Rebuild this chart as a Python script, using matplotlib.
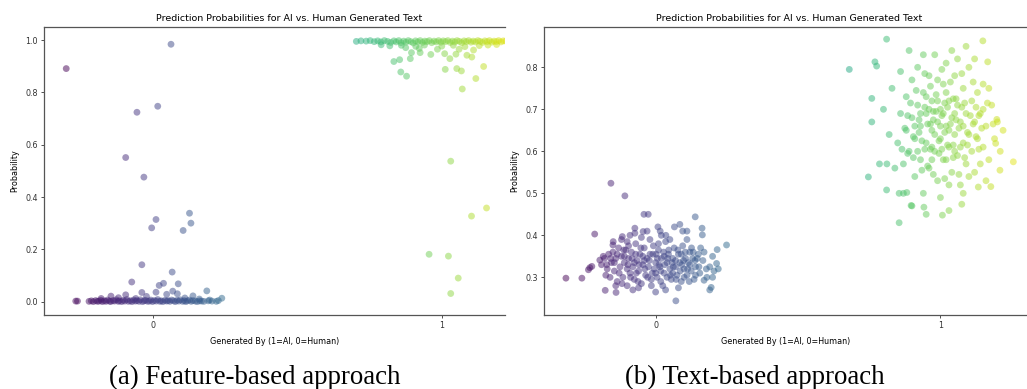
import matplotlib
matplotlib.use("Agg")
import matplotlib.pyplot as plt
import numpy as np

TITLE = "Prediction Probabilities for AI vs. Human Generated Text"
XLABEL = "Generated By (1=AI, 0=Human)"
YLABEL = "Probability"
CAPTIONS = ["(a) Feature-based approach", "(b) Text-based approach"]

# (a) feature-based: jittered label vs predicted probability
feat_human_band_x = [-0.268, -0.262, -0.222, -0.214, -0.207, -0.199, -0.193, -0.188, -0.181, -0.176,
                     -0.169, -0.163, -0.158, -0.151, -0.147, -0.139, -0.134, -0.128, -0.121, -0.117,
                     -0.109, -0.104, -0.098, -0.091, -0.086, -0.079, -0.073, -0.068, -0.061, -0.056,
                     -0.049, -0.044, -0.037, -0.031, -0.026, -0.019, -0.013, -0.008, -0.002, 0.004,
                     0.011, 0.016, 0.023, 0.028, 0.034, 0.041, 0.047, 0.052, 0.058, 0.064,
                     0.071, 0.077, 0.083, 0.089, 0.094, 0.102, 0.108, 0.113, 0.119, 0.126,
                     0.132, 0.138, 0.146, 0.153, 0.161, 0.168, 0.176, 0.191, 0.204, 0.219, 0.226]
feat_human_band_y = [0.002, 0.002, 0.001, 0.003, 0.0, 0.004, 0.001, 0.002, 0.005, 0.0,
                     0.003, 0.001, 0.006, 0.002, 0.0, 0.004, 0.002, 0.007, 0.001, 0.003,
                     0.0, 0.005, 0.002, 0.008, 0.001, 0.003, 0.0, 0.006, 0.002, 0.004,
                     0.001, 0.007, 0.0, 0.003, 0.005, 0.001, 0.002, 0.006, 0.0, 0.004,
                     0.002, 0.008, 0.001, 0.003, 0.0, 0.005, 0.002, 0.004, 0.001, 0.006,
                     0.003, 0.0, 0.005, 0.002, 0.007, 0.001, 0.004, 0.0, 0.003, 0.006,
                     0.001, 0.004, 0.002, 0.0, 0.003, 0.002, 0.001, 0.003, 0.002, 0.001, 0.004]
feat_human_out = [(-0.301, 0.891), (0.062, 0.984), (0.016, 0.747), (-0.056, 0.724), (-0.095, 0.551),
                  (-0.032, 0.476), (0.010, 0.314), (-0.005, 0.282), (0.126, 0.338), (0.131, 0.300),
                  (0.104, 0.272), (-0.039, 0.141), (0.066, 0.113), (-0.074, 0.075), (0.087, 0.068),
                  (0.036, 0.070), (0.021, 0.062), (0.186, 0.041), (0.238, 0.013), (0.010, 0.036),
                  (-0.146, 0.021), (-0.095, 0.026), (-0.039, 0.035), (-0.023, 0.020), (0.047, 0.028),
                  (0.068, 0.040), (0.084, 0.030), (0.138, 0.022), (-0.120, 0.015), (-0.180, 0.012),
                  (0.110, 0.014), (-0.060, 0.012), (0.160, 0.010), (0.196, 0.006)]

feat_ai_band_x = [0.704, 0.720, 0.738, 0.752, 0.766, 0.778, 0.789, 0.801, 0.812, 0.823,
                  0.834, 0.842, 0.851, 0.859, 0.868, 0.876, 0.884, 0.893, 0.901, 0.909,
                  0.917, 0.925, 0.933, 0.941, 0.949, 0.957, 0.965, 0.973, 0.981, 0.989,
                  0.997, 1.005, 1.013, 1.021, 1.029, 1.037, 1.045, 1.053, 1.061, 1.069,
                  1.077, 1.085, 1.093, 1.101, 1.109, 1.117, 1.125, 1.133, 1.141, 1.149,
                  1.157, 1.165, 1.173, 1.181, 1.189, 1.197, 1.205, 1.213, 1.222]
feat_ai_band_y = [0.995, 0.997, 0.996, 0.998, 0.994, 0.997, 0.993, 0.998, 0.995, 0.991,
                  0.997, 0.993, 0.998, 0.990, 0.996, 0.992, 0.998, 0.994, 0.989, 0.997,
                  0.993, 0.998, 0.991, 0.996, 0.994, 0.998, 0.990, 0.996, 0.993, 0.998,
                  0.992, 0.997, 0.994, 0.998, 0.991, 0.996, 0.993, 0.998, 0.995, 0.990,
                  0.997, 0.994, 0.998, 0.992, 0.996, 0.993, 0.998, 0.995, 0.991, 0.997,
                  0.994, 0.998, 0.992, 0.996, 0.994, 0.998, 0.993, 0.997, 0.996]
feat_ai_out = [(0.834, 0.918), (0.854, 0.925), (0.891, 0.929), (0.858, 0.878), (0.878, 0.862),
               (0.875, 0.971), (0.895, 0.952), (0.925, 0.952), (0.962, 0.945), (0.922, 0.968),
               (1.010, 0.948), (1.028, 0.929), (1.049, 0.946), (1.060, 0.965), (1.087, 0.942),
               (1.104, 0.935), (1.012, 0.888), (1.052, 0.891), (1.068, 0.882), (1.118, 0.853),
               (1.145, 0.899), (1.071, 0.813), (1.031, 0.537), (0.956, 0.181), (1.023, 0.174),
               (1.057, 0.090), (1.031, 0.031), (1.103, 0.327), (1.155, 0.358),
               (0.790, 0.982), (0.820, 0.978), (0.860, 0.980), (0.910, 0.976), (0.940, 0.981),
               (1.000, 0.977), (1.040, 0.980), (1.080, 0.975), (1.130, 0.979), (1.160, 0.981),
               (1.190, 0.983), (0.985, 0.965), (1.110, 0.962)]

# (b) text-based
text_human = [(-0.157, 0.524), (-0.108, 0.494), (-0.214, 0.403), (-0.315, 0.298), (-0.259, 0.298),
              (-0.177, 0.269), (-0.139, 0.264), (0.071, 0.244), (0.139, 0.444), (-0.041, 0.450),
              (-0.026, 0.450), (-0.231, 0.323), (-0.236, 0.318), (-0.224, 0.326), (-0.196, 0.341),
              (-0.184, 0.350), (-0.149, 0.385), (-0.150, 0.377), (-0.117, 0.397), (-0.100, 0.385),
              (0.249, 0.377), (0.216, 0.366), (0.163, 0.417), (0.164, 0.401), (0.095, 0.410),
              (0.110, 0.410), (0.085, 0.426), (-0.073, 0.417), (-0.073, 0.405), (-0.044, 0.409),
              (0.008, 0.420), (0.016, 0.410), (0.066, 0.420), (0.036, 0.400), (0.190, 0.270),
              (0.195, 0.276), (0.170, 0.293), (0.200, 0.300), (0.205, 0.315), (0.214, 0.333),
              (0.200, 0.350), (0.190, 0.325), (0.180, 0.300), (0.220, 0.320), (0.170, 0.360),
              (-0.190, 0.330), (-0.180, 0.345), (-0.170, 0.320), (-0.165, 0.355), (-0.160, 0.300),
              (-0.155, 0.335), (-0.150, 0.360), (-0.145, 0.315), (-0.140, 0.345), (-0.135, 0.290),
              (-0.130, 0.370), (-0.125, 0.325), (-0.120, 0.350), (-0.115, 0.300), (-0.110, 0.335),
              (-0.105, 0.365), (-0.100, 0.280), (-0.095, 0.345), (-0.090, 0.310), (-0.085, 0.360),
              (-0.080, 0.325), (-0.075, 0.295), (-0.070, 0.380), (-0.065, 0.340), (-0.060, 0.315),
              (-0.055, 0.355), (-0.050, 0.285), (-0.045, 0.330), (-0.040, 0.370), (-0.035, 0.305),
              (-0.030, 0.345), (-0.025, 0.325), (-0.020, 0.390), (-0.015, 0.295), (-0.010, 0.355),
              (-0.005, 0.320), (0.000, 0.335), (0.005, 0.300), (0.010, 0.365), (0.015, 0.325),
              (0.020, 0.345), (0.025, 0.280), (0.030, 0.310), (0.035, 0.385), (0.040, 0.335),
              (0.045, 0.355), (0.050, 0.320), (0.055, 0.295), (0.060, 0.345), (0.065, 0.370),
              (0.070, 0.325), (0.075, 0.305), (0.080, 0.355), (0.085, 0.335), (0.090, 0.290),
              (0.095, 0.375), (0.100, 0.320), (0.105, 0.345), (0.110, 0.305), (0.115, 0.335),
              (0.120, 0.360), (0.125, 0.315), (0.130, 0.345), (0.135, 0.295), (0.140, 0.325),
              (0.150, 0.355), (0.155, 0.310), (-0.120, 0.390), (-0.090, 0.400), (-0.060, 0.275),
              (-0.030, 0.410), (0.000, 0.265), (0.020, 0.400), (0.050, 0.390), (0.080, 0.275),
              (0.110, 0.390), (-0.175, 0.305), (-0.140, 0.280), (-0.100, 0.320), (-0.020, 0.355),
              (0.030, 0.350), (0.060, 0.310), (0.090, 0.355), (0.000, 0.310), (-0.040, 0.340),
              (0.040, 0.300), (-0.070, 0.355), (0.070, 0.340), (0.120, 0.330), (-0.110, 0.350),
              (0.010, 0.380), (-0.050, 0.395), (0.100, 0.300), (-0.080, 0.270), (0.140, 0.305),
              (0.035, 0.270), (-0.015, 0.280),
              (-0.145, 0.335), (-0.128, 0.310), (-0.112, 0.365), (-0.097, 0.330), (-0.083, 0.345),
              (-0.068, 0.310), (-0.052, 0.370), (-0.038, 0.320), (-0.022, 0.340), (-0.008, 0.375),
              (0.006, 0.345), (0.018, 0.315), (0.032, 0.330), (0.046, 0.365), (0.058, 0.335),
              (0.072, 0.295), (0.086, 0.315), (0.098, 0.340), (0.112, 0.320), (0.126, 0.370),
              (0.138, 0.340), (0.152, 0.325), (0.166, 0.340), (0.178, 0.320), (-0.158, 0.345),
              (-0.172, 0.330), (-0.118, 0.285), (-0.088, 0.300), (-0.058, 0.330), (-0.028, 0.300),
              (0.002, 0.355), (0.028, 0.360), (0.052, 0.305), (0.078, 0.365), (0.104, 0.360),
              (0.132, 0.360), (-0.095, 0.375), (-0.045, 0.350), (0.012, 0.330), (0.062, 0.325),
              (0.118, 0.290), (0.146, 0.345), (-0.135, 0.355), (-0.075, 0.335), (-0.012, 0.310),
              (0.042, 0.345), (0.092, 0.330), (0.018, 0.290), (-0.062, 0.290), (0.158, 0.370)]

text_ai = [(0.680, 0.795), (0.811, 0.867), (0.770, 0.813), (0.776, 0.803), (0.759, 0.670),
           (0.759, 0.726), (0.747, 0.539), (0.855, 0.430), (1.256, 0.575), (1.149, 0.863),
           (1.166, 0.813), (1.198, 0.676), (1.194, 0.619), (1.209, 0.555), (1.177, 0.516),
           (1.133, 0.515), (1.075, 0.474), (1.030, 0.459), (1.007, 0.448), (0.942, 0.467),
           (0.897, 0.471), (0.855, 0.500), (0.882, 0.502), (0.811, 0.508), (0.786, 0.570),
           (0.812, 0.570),
           (0.85, 0.62), (0.86, 0.69), (0.87, 0.57), (0.88, 0.73), (0.88, 0.65), (0.89, 0.60),
           (0.90, 0.77), (0.90, 0.68), (0.91, 0.54), (0.91, 0.63), (0.92, 0.71), (0.92, 0.80),
           (0.93, 0.58), (0.93, 0.66), (0.94, 0.74), (0.94, 0.50), (0.95, 0.62), (0.95, 0.69),
           (0.96, 0.56), (0.96, 0.78), (0.97, 0.65), (0.97, 0.72), (0.98, 0.60), (0.98, 0.83),
           (0.99, 0.67), (0.99, 0.53), (1.00, 0.70), (1.00, 0.63), (1.01, 0.76), (1.01, 0.58),
           (1.02, 0.66), (1.02, 0.81), (1.03, 0.61), (1.03, 0.72), (1.04, 0.55), (1.04, 0.68),
           (1.05, 0.64), (1.05, 0.78), (1.06, 0.59), (1.06, 0.71), (1.07, 0.52), (1.07, 0.67),
           (1.08, 0.62), (1.08, 0.75), (1.09, 0.69), (1.09, 0.57), (1.10, 0.64), (1.10, 0.80),
           (1.11, 0.72), (1.11, 0.60), (1.12, 0.67), (1.12, 0.55), (1.13, 0.74), (1.13, 0.63),
           (1.14, 0.69), (1.15, 0.61), (1.15, 0.76), (1.16, 0.66), (1.17, 0.58), (1.18, 0.71),
           (0.80, 0.70), (0.82, 0.64), (0.83, 0.75), (0.84, 0.56), (0.86, 0.79), (0.87, 0.50),
           (0.89, 0.84), (0.90, 0.47), (0.92, 0.60), (0.94, 0.83), (0.95, 0.45), (0.97, 0.58),
           (0.99, 0.77), (1.00, 0.49), (1.02, 0.74), (1.03, 0.52), (1.04, 0.84), (1.05, 0.69),
           (1.06, 0.82), (1.07, 0.61), (1.08, 0.50), (1.09, 0.85), (1.10, 0.54), (1.12, 0.82),
           (1.14, 0.57), (1.15, 0.70), (1.16, 0.53), (1.17, 0.75), (1.19, 0.63), (1.20, 0.67),
           (1.21, 0.60), (1.22, 0.65), (0.96, 0.70), (0.98, 0.64), (1.00, 0.66), (1.01, 0.69),
           (0.97, 0.61), (1.03, 0.65), (0.93, 0.69), (1.05, 0.60), (0.99, 0.72), (0.91, 0.66),
           (1.08, 0.66), (0.95, 0.73), (1.02, 0.58),
           (0.875, 0.655), (0.885, 0.595), (0.895, 0.715), (0.905, 0.635), (0.915, 0.745),
           (0.925, 0.675), (0.935, 0.625), (0.945, 0.705), (0.955, 0.665), (0.965, 0.605),
           (0.975, 0.695), (0.985, 0.735), (0.995, 0.625), (1.005, 0.685), (1.015, 0.645),
           (1.025, 0.705), (1.035, 0.665), (1.045, 0.615), (1.055, 0.725), (1.065, 0.655),
           (1.075, 0.705), (1.085, 0.585), (1.095, 0.645), (1.105, 0.685), (1.115, 0.665),
           (1.125, 0.705), (1.135, 0.605), (1.145, 0.655), (0.955, 0.565), (0.975, 0.545),
           (1.015, 0.535), (1.045, 0.585), (1.065, 0.545), (1.095, 0.615), (0.995, 0.595),
           (0.935, 0.555), (0.905, 0.585), (0.965, 0.755), (1.035, 0.765), (1.075, 0.785),
           (1.005, 0.795), (0.945, 0.785), (1.115, 0.765), (0.985, 0.695), (1.025, 0.615),
           (1.055, 0.675), (0.925, 0.645), (1.085, 0.715), (0.965, 0.665), (1.005, 0.605),
           (1.045, 0.725), (0.945, 0.605), (1.125, 0.635), (0.885, 0.685), (1.165, 0.715),
           (1.185, 0.665), (1.135, 0.685), (0.865, 0.605), (1.015, 0.715), (0.975, 0.675)]


def draw_panel(ax, pts, vmin, vmax, xlim, ylim, yticks, title_x):
    pts = np.array(pts)
    ax.scatter(pts[:, 0], pts[:, 1], c=pts[:, 0], cmap="viridis", vmin=vmin, vmax=vmax,
               s=24, alpha=0.5, linewidths=0)
    ax.set_xlim(*xlim)
    ax.set_ylim(*ylim)
    ax.set_xticks([0, 1])
    ax.set_yticks(yticks)
    ax.tick_params(labelsize=5.8, length=2.5, width=0.6, colors="#333333", pad=2)
    ax.set_xlabel(XLABEL, fontsize=5.8, labelpad=5)
    ax.set_ylabel(YLABEL, fontsize=5.8, labelpad=4)
    ax.set_title(TITLE, fontsize=6.8, x=title_x, pad=4)
    ax.spines["right"].set_visible(False)
    for s in ["left", "bottom", "top"]:
        ax.spines[s].set_color("#555555")
        ax.spines[s].set_linewidth(0.9)


fig = plt.figure(figsize=(10.27, 3.89), dpi=100)
ax1 = fig.add_axes([44 / 1027, 1 - 314.7 / 389, 461 / 1027, 287.7 / 389])
ax2 = fig.add_axes([544 / 1027, 1 - 314.7 / 389, 483 / 1027, 287.7 / 389])

feat_pts = (list(zip(feat_human_band_x, feat_human_band_y)) + feat_human_out
            + list(zip(feat_ai_band_x, feat_ai_band_y)) + feat_ai_out)
draw_panel(ax1, feat_pts, -0.30, 1.30, (-0.378, 1.219), (-0.05, 1.05),
           [0.0, 0.2, 0.4, 0.6, 0.8, 1.0], 0.5325)
draw_panel(ax2, text_human + text_ai, -0.315, 1.33, (-0.392, 1.304), (0.211, 0.896),
           [0.3, 0.4, 0.5, 0.6, 0.7, 0.8], 0.508)

fig.text(254.5 / 1027, 12 / 389, CAPTIONS[0], family="Liberation Serif", fontsize=19.4,
         ha="center", va="center")
fig.text(755 / 1027, 12 / 389, CAPTIONS[1], family="Liberation Serif", fontsize=19.4,
         ha="center", va="center")

fig.savefig("out.png", dpi=100)
